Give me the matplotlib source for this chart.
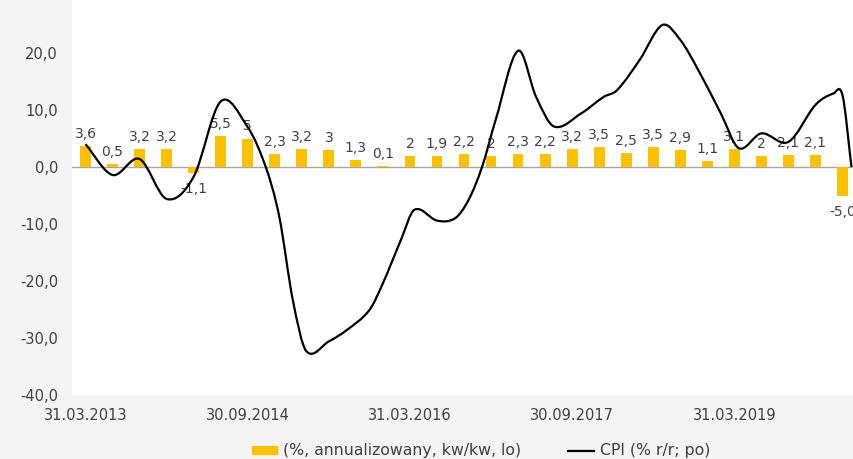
import numpy as np
import matplotlib.pyplot as plt
from matplotlib.path import Path
from matplotlib.patches import PathPatch, Patch
from matplotlib.lines import Line2D

# słupki kwartalne 31.03.2013 - 31.03.2020
wartosci = [3.6, 0.5, 3.2, 3.2, -1.1, 5.5, 5.0, 2.3, 3.2, 3.0, 1.3, 0.1, 2.0, 1.9, 2.2,
            2.0, 2.3, 2.2, 3.2, 3.5, 2.5, 3.5, 2.9, 1.1, 3.1, 2.0, 2.1, 2.1, -5.0]
etykiety = ["3,6", "0,5", "3,2", "3,2", "-1,1", "5,5", "5", "2,3", "3,2", "3", "1,3", "0,1",
            "2", "1,9", "2,2", "2", "2,3", "2,2", "3,2", "3,5", "2,5", "3,5", "2,9", "1,1",
            "3,1", "2", "2,1", "2,1", "-5,0"]
daty = ["31.03.2013", "30.09.2014", "31.03.2016", "30.09.2017", "31.03.2019"]

# CPI (miesiące od 03.2013)
cpi_mies = [0, 3, 6, 9, 12, 15, 18, 20, 21.5, 23, 24.5, 27, 29, 31.5, 33, 35, 36.5, 39, 41,
            42.5, 44, 45.5, 48, 50, 52, 55, 57.5, 59, 61.5, 64, 66, 68, 70.5, 72.5, 75, 78,
            81, 83, 84, 85]
cpi = [4.0, -1.4, 1.4, -5.6, -1.7, 11.5, 7.0, 0.0, -8.7, -23.3, -32.3, -30.6, -28.6, -25.1,
       -20.4, -12.8, -7.5, -9.4, -9.0, -5.8, 0.0, 8.2, 20.4, 12.3, 7.1, 9.4, 12.3, 13.5,
       18.8, 24.9, 22.3, 17.0, 9.4, 3.3, 5.9, 4.4, 10.9, 12.9, 12.6, 0.0]

zolty = "#FFC000"
szary = "#404040"

fig = plt.figure(figsize=(8.54, 4.59), dpi=100, facecolor="#f4f4f4")
ax = fig.add_axes([72/854, 64/459, 784/854, 399/459])
ax.set_facecolor("white")

x = np.arange(len(wartosci))
ax.bar(x, wartosci, width=0.4, color=zolty, zorder=2)
ax.axhline(0, color="#a6a6a6", lw=1, zorder=1)

for xi, v, t in zip(x, wartosci, etykiety):
    if v >= 0:
        ax.annotate(t, (xi, v), xytext=(0, 3.6), textcoords="offset points",
                    ha="center", va="bottom", fontsize=10, color=szary)
    else:
        ax.annotate(t, (xi, v), xytext=(0, -6.5), textcoords="offset points",
                    ha="center", va="top", fontsize=10, color=szary)

# wygładzona linia (jak w Excelu)
xs = np.array(cpi_mies) / 3.0
ys = np.array(cpi)
m = np.zeros_like(ys)
m[1:-1] = (ys[2:] - ys[:-2]) / (xs[2:] - xs[:-2])
m[0] = (ys[1] - ys[0]) / (xs[1] - xs[0])
m[-1] = (ys[-1] - ys[-2]) / (xs[-1] - xs[-2])
verts = [(xs[0], ys[0])]
codes = [Path.MOVETO]
for i in range(len(xs) - 1):
    h = xs[i+1] - xs[i]
    verts += [(xs[i] + h/3, ys[i] + m[i]*h/3),
              (xs[i+1] - h/3, ys[i+1] - m[i+1]*h/3),
              (xs[i+1], ys[i+1])]
    codes += [Path.CURVE4] * 3
ax.add_patch(PathPatch(Path(verts, codes), facecolor="none", edgecolor="black",
                       lw=1.6, zorder=3, transform=ax.transData))

ax.set_xlim(-0.5, len(wartosci) - 0.5)
ax.set_ylim(-40, 30)
yt = np.arange(-40, 21, 10)
ax.set_yticks(yt)
ax.set_yticklabels([f"{v:.1f}".replace(".", ",") for v in yt])
ax.set_xticks(np.arange(0, len(wartosci), 6))
ax.set_xticklabels(daty)
ax.tick_params(length=0, labelsize=10.5, colors=szary)
ax.tick_params(axis="x", pad=9)
ax.tick_params(axis="y", pad=10)
for s in ax.spines.values():
    s.set_visible(False)

uchwyty = [Patch(color=zolty), Line2D([], [], color="black", lw=1.6)]
fig.legend(uchwyty, ["(%, annualizowany, kw/kw, lo)", "CPI (% r/r; po)"],
           loc="center", bbox_to_anchor=(481/854, 1 - 451/459), ncol=2, frameon=False,
           fontsize=11.3, handlelength=1.6, handleheight=0.45, columnspacing=3.0,
           handletextpad=0.4, labelcolor=szary)

fig.savefig("out.png", dpi=100, facecolor=fig.get_facecolor())
